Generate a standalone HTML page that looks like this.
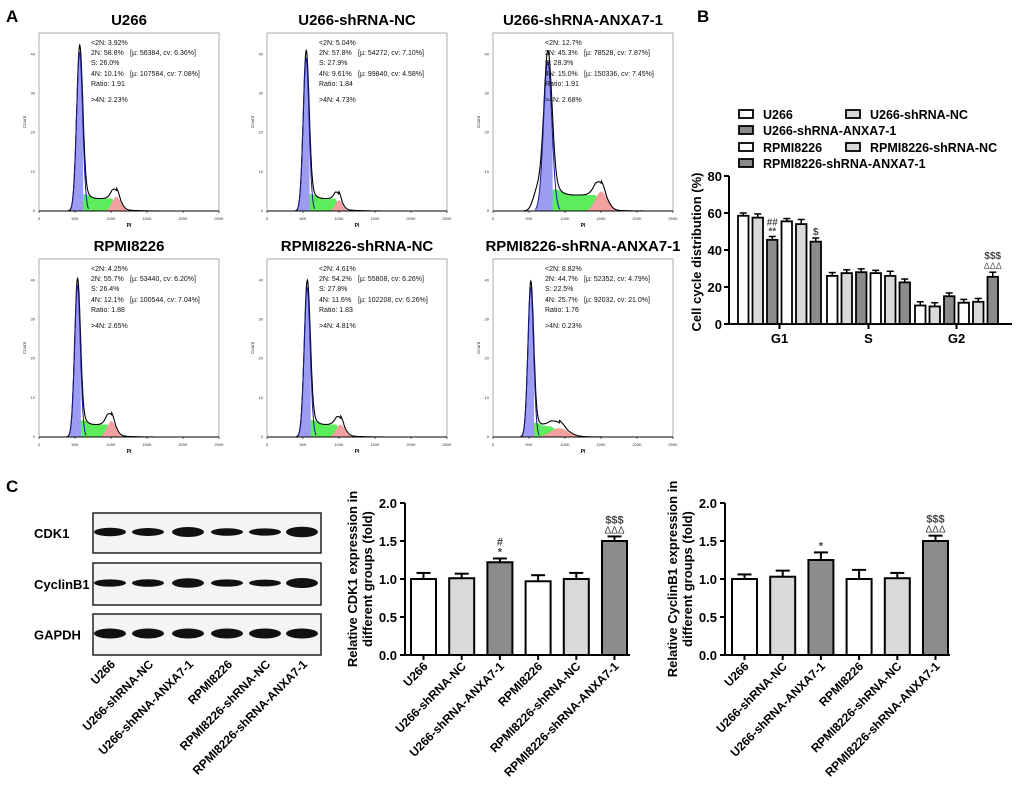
<!DOCTYPE html>
<html><head><meta charset="utf-8">
<style>
body{margin:0;background:#fff;}
svg{display:block;font-family:"Liberation Sans",Arial,sans-serif;}
</style></head>
<body>
<svg id="fig" width="1020" height="790" viewBox="0 0 1020 790" xmlns="http://www.w3.org/2000/svg">
<text x="6" y="22" font-size="17" font-weight="bold">A</text>
<text x="697" y="22" font-size="17" font-weight="bold">B</text>
<text x="6" y="492" font-size="17" font-weight="bold">C</text>
<g id="hist"></g>
<g id="cycle"></g>
<g id="blot"></g>
<g id="cdk1"></g>
<g id="ccnb1"></g>
</svg>
<script>
// ---------- Panel A data ----------
const histTitles = ["U266","U266-shRNA-NC","U266-shRNA-ANXA7-1","RPMI8226","RPMI8226-shRNA-NC","RPMI8226-shRNA-ANXA7-1"];
const histMu2N = [56.4,54.3,76,53.4,55.8,52.4];
const histMu4N = [107.6,99.8,150.3,100.5,102.2,92.0];
const histPeak = [0.89,0.86,0.84,0.85,0.84,0.84];
const histSLevel = [0.07,0.07,0.09,0.07,0.07,0.06];
const hist4NPeak = [0.08,0.06,0.11,0.09,0.07,0.05];
const histSd4N = [6,5,8,6,6,12];
const histText = [
 ["<2N: 3.92%","2N: 58.8%","S: 26.0%","4N: 10.1%","Ratio: 1.91",">4N: 2.23%","[µ: 56384, cv: 6.36%]","[µ: 107584, cv: 7.08%]"],
 ["<2N: 5.04%","2N: 57.8%","S: 27.9%","4N: 9.61%","Ratio: 1.84",">4N: 4.73%","[µ: 54272, cv: 7.10%]","[µ: 99840, cv: 4.58%]"],
 ["<2N: 12.7%","2N: 45.3%","S: 28.3%","4N: 15.0%","Ratio: 1.91",">4N: 2.68%","[µ: 78528, cv: 7.87%]","[µ: 150336, cv: 7.45%]"],
 ["<2N: 4.25%","2N: 55.7%","S: 26.4%","4N: 12.1%","Ratio: 1.88",">4N: 2.65%","[µ: 53440, cv: 6.20%]","[µ: 100544, cv: 7.04%]"],
 ["<2N: 4.61%","2N: 54.2%","S: 27.8%","4N: 11.6%","Ratio: 1.83",">4N: 4.81%","[µ: 55808, cv: 6.26%]","[µ: 102208, cv: 6.26%]"],
 ["<2N: 8.82%","2N: 44.7%","S: 22.5%","4N: 25.7%","Ratio: 1.76",">4N: 0.23%","[µ: 52352, cv: 4.79%]","[µ: 92032, cv: 21.0%]"]
];
// ---------- Panel B data ----------
const groups = ["G1","S","G2"];
const cycleSeries = ["U266","U266-shRNA-NC","U266-shRNA-ANXA7-1","RPMI8226","RPMI8226-shRNA-NC","RPMI8226-shRNA-ANXA7-1"];
const g1Values = [58.5,57.5,45.5,55.5,54,44.5];
const sValues = [26,27.5,28,27.5,26,22.5];
const g2Values = [10,9.5,15,11.5,12,25.5];
const g1Err = [1.5,2,1.8,1.5,2.5,2];
const sErr = [1.8,1.8,1.8,1.5,2.5,1.8];
const g2Err = [2,2,1.8,1.8,1.8,2.5];
const cycleTicks = [0,20,40,60,80];
// ---------- Panel C data ----------
const blotLanes = ["U266","U266-shRNA-NC","U266-shRNA-ANXA7-1","RPMI8226","RPMI8226-shRNA-NC","RPMI8226-shRNA-ANXA7-1"];
const cdk1Band = [0.75,0.65,1.0,0.6,0.55,1.1];
const ccnb1Band = [0.55,0.6,0.9,0.55,0.45,1.0];
const gapdhBand = [1,1,1,1,1,1];
const cdk1Values = [1.0,1.01,1.22,0.97,1.0,1.5];
const cdk1Err = [0.08,0.06,0.05,0.08,0.08,0.06];
const ccnb1Values = [1.0,1.03,1.25,1.0,1.01,1.5];
const ccnb1Err = [0.06,0.08,0.1,0.12,0.07,0.07];
const foldTicks = [0.0,0.5,1.0,1.5,2.0];

const NS="http://www.w3.org/2000/svg";
function mk(parent,tag,attrs,text){const e=document.createElementNS(NS,tag);for(const k in attrs)e.setAttribute(k,attrs[k]);if(text!==undefined)e.textContent=text;parent.appendChild(e);return e;}
const fills=["#ffffff","#d9d9d9","#8c8c8c","#ffffff","#d9d9d9","#8c8c8c"];

// ---------- Histograms ----------
(function(){
 const g=document.getElementById('hist');
 const frames=[[39,33],[267,33],[493,33],[39,259],[267,259],[493,259]];
 const W=180,H=178;
 for(let p=0;p<6;p++){
  const [L,T]=frames[p];const B=T+H;
  const px=v=>L+v/250*W, py=f=>B-f*H;
  const t=mk(g,'text',{x:L+W/2,y:T-8,'font-size':15,'font-weight':'bold','text-anchor':'middle'},histTitles[p]);
  
  
  const fr=mk(g,'rect',{x:L,y:T,width:W,height:H,fill:'none',stroke:'#999','stroke-width':0.8});
  
  
  const m2=histMu2N[p],m4=histMu4N[p],sd2=m2*0.075,sd4=histSd4N[p];
  const gauss=(x,m,s)=>Math.exp(-0.5*((x-m)/s)**2);
  const g1=x=>histPeak[p]*gauss(x,m2,sd2);
  const g2=x=>hist4NPeak[p]*gauss(x,m4,sd4);
  const sph=x=>{if(x<m2-sd2||x>m4+sd4)return 0;let f=histSLevel[p];let e=1;if(x<m2+sd2)e=(x-(m2-sd2))/(2*sd2);if(x>m4-sd4)e=((m4+sd4)-x)/(2*sd4);return f*Math.max(0,Math.min(1,e))*(1+0.35*gauss(x,m2+1.8*sd2,sd2*1.5));};
  const tail=x=>x>m4?0.015*Math.exp(-(x-m4)/15):0;
  const shoulder=x=>p===2?0.12*gauss(x,62,6):0;
  const tot=x=>g1(x)+g2(x)+sph(x)+tail(x)+shoulder(x);
  function area(fn,a,b,col,name){let d=`M${px(a)},${B}`;for(let x=a;x<=b;x+=0.5)d+=` L${px(x).toFixed(1)},${py(fn(x)).toFixed(1)}`;d+=` L${px(b)},${B}Z`;const e=mk(g,'path',{d:d,fill:col,stroke:'none'});}
  area(sph,m2-sd2,m4+sd4,'#5cec5c','s-phase-area');
  area(g1,m2-4*sd2,m2+1.2*sd2,'#9c9cf2','g1-peak-area');
  area(g2,m4-3*sd4,m4+3*sd4,'#f3a0a0','g2-peak-area');
  let d='';for(let x=0;x<=250;x+=0.5)d+=(x?' L':'M')+px(x).toFixed(1)+','+py(tot(x)).toFixed(1);
  const ln=mk(g,'path',{d:d,fill:'none',stroke:'#000','stroke-width':1.1});
  
  
  let d2='';for(let x=m2-3*sd2;x<=m2+3*sd2;x+=0.5)d2+=(d2?' L':'M')+px(x).toFixed(1)+','+py(g1(x)).toFixed(1);
  mk(g,'path',{d:d2,fill:'none',stroke:'#1a1a90','stroke-width':1});
  mk(g,'line',{x1:L,y1:B,x2:L+W,y2:B,stroke:'#000','stroke-width':1});
  for(let k=0;k<=5;k++){mk(g,'line',{x1:px(k*50),y1:B,x2:px(k*50),y2:B+2,stroke:'#000','stroke-width':0.6});
   const tl=mk(g,'text',{x:px(k*50),y:B+9,'font-size':4,'text-anchor':'middle',fill:'#333'},k?k*50+'K':'0');
   
   }
  for(let k=0;k<5;k++){mk(g,'text',{x:L-4,y:B-k*H*0.22+1,'font-size':4,'text-anchor':'end',fill:'#333'},k*10);}
  const xl=mk(g,'text',{x:L+W/2,y:B+16,'font-size':5,'font-weight':'bold','text-anchor':'middle'},'PI');
  
  
  const yl=mk(g,'text',{x:0,y:0,'font-size':4.5,'text-anchor':'middle',fill:'#333',transform:`translate(${L-13},${T+H/2}) rotate(-90)`},'Count');
  
  
  const tx=histText[p];const ys=[12,22,32,43,53,69];
  for(let i=0;i<6;i++){const e=mk(g,'text',{x:L+52,y:T+ys[i],'font-size':7,fill:'#111'},tx[i]);}
  mk(g,'text',{x:L+91,y:T+ys[1],'font-size':7,fill:'#111'},tx[6]);
  mk(g,'text',{x:L+91,y:T+ys[3],'font-size':7,fill:'#111'},tx[7]);
 }
})();

// ---------- Panel B ----------
(function(){
 const g=document.getElementById('cycle');
 const X0=729,Y0=324,Y1=176,XE=1012;
 const y=v=>Y0-(v/80)*(Y0-Y1);
 const groupStart=[738,827,915],pitch=14.5,bw=10.5;
 const vals=[g1Values,sValues,g2Values],errs=[g1Err,sErr,g2Err];
 mk(g,'line',{x1:X0,y1:Y1,x2:X0,y2:Y0,stroke:'#000','stroke-width':2});
 mk(g,'line',{x1:X0,y1:Y0,x2:XE,y2:Y0,stroke:'#000','stroke-width':2});
 cycleTicks.forEach(t=>{mk(g,'line',{x1:X0-5,y1:y(t),x2:X0,y2:y(t),stroke:'#000','stroke-width':2});
  const e=mk(g,'text',{x:X0-7,y:y(t)+5,'font-size':13,'font-weight':'bold','text-anchor':'end'},t);
  
  });
 const yt=mk(g,'text',{x:0,y:0,'font-size':13,'font-weight':'bold','text-anchor':'middle',transform:`translate(701,${(Y0+Y1)/2+2}) rotate(-90)`},'Cell cycle distribution (%)');
 
 
 groups.forEach((gn,gi)=>{
  for(let s=0;s<6;s++){const bx=groupStart[gi]+s*pitch,v=vals[gi][s],e=errs[gi][s];const cx=bx+bw/2;
   mk(g,'line',{x1:cx,y1:y(v),x2:cx,y2:y(v+e),stroke:'#000','stroke-width':1.5});
   mk(g,'line',{x1:cx-3.5,y1:y(v+e),x2:cx+3.5,y2:y(v+e),stroke:'#000','stroke-width':1.5});
   const r=mk(g,'rect',{x:bx,y:y(v),width:bw,height:Y0-y(v),fill:fills[s],stroke:'#000','stroke-width':1.8});
   
   }
  const cx=groupStart[gi]+2.5*pitch+bw/2;
  mk(g,'line',{x1:cx,y1:Y0,x2:cx,y2:Y0+5,stroke:'#000','stroke-width':2});
  const e=mk(g,'text',{x:cx,y:Y0+19,'font-size':13,'font-weight':'bold','text-anchor':'middle'},gn);
  
  
 });
 const bx3=groupStart[0]+2*pitch+bw/2, bx6=groupStart[0]+5*pitch+bw/2, cx6=groupStart[2]+5*pitch+bw/2;
 mk(g,'text',{x:bx3,y:y(g1Values[2]+g1Err[2])-11,'font-size':10,'font-weight':'bold','text-anchor':'middle',fill:'#444'},'##');
 mk(g,'text',{x:bx3,y:y(g1Values[2]+g1Err[2])-2,'font-size':10,'font-weight':'bold','text-anchor':'middle',fill:'#444'},'**');
 mk(g,'text',{x:bx6,y:y(g1Values[5]+g1Err[5])-3,'font-size':10,'font-weight':'bold','text-anchor':'middle',fill:'#444'},'$');
 mk(g,'text',{x:cx6,y:y(g2Values[5]+g2Err[5])-13,'font-size':10,'font-weight':'bold','text-anchor':'middle',fill:'#444'},'$$$');
 mk(g,'text',{x:cx6,y:y(g2Values[5]+g2Err[5])-3,'font-size':9,'text-anchor':'middle',fill:'#666'},'ΔΔΔ');
 const leg=[[739,119,0],[846,119,1],[739,135,2],[739,152,3],[846,152,4],[739,168,5]];
 leg.forEach(([lx,ly,i])=>{
  const r=mk(g,'rect',{x:lx,y:ly-9,width:14,height:8,fill:fills[i],stroke:'#000','stroke-width':1.8});
  
  
  const t=mk(g,'text',{x:lx+24,y:ly,'font-size':12.5,'font-weight':'bold'},cycleSeries[i]);
  
  
 });
})();

// ---------- Western blot ----------
(function(){
 const g=document.getElementById('blot');
 const boxes=[[513,553,'CDK1',cdk1Band],[563,605,'CyclinB1',ccnb1Band],[614,655,'GAPDH',gapdhBand]];
 const lanes=[110,148,188,227,265,302];
 boxes.forEach(([t,b,name,band])=>{
  const r=mk(g,'rect',{x:93,y:t,width:228,height:b-t,fill:'#f4f4f4',stroke:'#222','stroke-width':1.5});
  
  
  const lb=mk(g,'text',{x:34,y:(t+b)/2+5,'font-size':13,'font-weight':'bold'},name);
  
  
  band.forEach((s,i)=>{const e=mk(g,'ellipse',{cx:lanes[i],cy:(t+b)/2-1,rx:16,ry:2+s*3,fill:'#111'});
   
   });
 });
 blotLanes.forEach((l,i)=>{const e=mk(g,'text',{x:0,y:0,'font-size':12,'font-weight':'bold','text-anchor':'end',transform:`translate(${lanes[i]+6},${665}) rotate(-45)`},l);
  
  });
})();

// ---------- Fold bar charts ----------
function foldChart(id,X0,firstBar,vals,errs,title,marks){
 const g=document.getElementById(id);
 const Y0=655,Y1=503,XE=X0+225;
 const y=v=>Y0-(v/2)*(Y0-Y1);
 const pitch=38.2,bw=25;
 mk(g,'line',{x1:X0,y1:Y1,x2:X0,y2:Y0,stroke:'#000','stroke-width':2});
 mk(g,'line',{x1:X0,y1:Y0,x2:XE,y2:Y0,stroke:'#000','stroke-width':2});
 foldTicks.forEach(t=>{mk(g,'line',{x1:X0-5,y1:y(t),x2:X0,y2:y(t),stroke:'#000','stroke-width':2});
  const e=mk(g,'text',{x:X0-8,y:y(t)+5,'font-size':13,'font-weight':'bold','text-anchor':'end'},t.toFixed(1));
  
  });
 const t1=mk(g,'text',{x:0,y:0,'font-size':13,'font-weight':'bold','text-anchor':'middle',transform:`translate(${X0-48},${(Y0+Y1)/2}) rotate(-90)`},title[0]);
 
 
 mk(g,'text',{x:0,y:0,'font-size':13,'font-weight':'bold','text-anchor':'middle',transform:`translate(${X0-33},${(Y0+Y1)/2}) rotate(-90)`},title[1]);
 vals.forEach((v,i)=>{const bx=firstBar+i*pitch,cx=bx+bw/2,e=errs[i];
  mk(g,'line',{x1:cx,y1:y(v),x2:cx,y2:y(v+e),stroke:'#000','stroke-width':2});
  mk(g,'line',{x1:cx-7,y1:y(v+e),x2:cx+7,y2:y(v+e),stroke:'#000','stroke-width':2});
  const r=mk(g,'rect',{x:bx,y:y(v),width:bw,height:Y0-y(v),fill:fills[i],stroke:'#000','stroke-width':2});
  
  
  mk(g,'line',{x1:cx,y1:Y0,x2:cx,y2:Y0+5,stroke:'#000','stroke-width':2});
  const l=mk(g,'text',{x:0,y:0,'font-size':12,'font-weight':'bold','text-anchor':'end',transform:`translate(${cx+5},${Y0+12}) rotate(-45)`},blotLanes[i]);
  
  
 });
 marks.forEach(([i,lines])=>{const cx=firstBar+i*pitch+bw/2,top=y(vals[i]+errs[i]);
  lines.forEach((s,k)=>{mk(g,'text',{x:cx,y:top-3-(lines.length-1-k)*10,'font-size':s==='ΔΔΔ'?10:11,'font-weight':s==='ΔΔΔ'?'normal':'bold','text-anchor':'middle',fill:'#444'},s);});
 });
}
foldChart('cdk1',405,411,cdk1Values,cdk1Err,['Relative CDK1 expression in','different groups (fold)'],[[2,['#','*']],[5,['$$$','ΔΔΔ']]]);
foldChart('ccnb1',725,732,ccnb1Values,ccnb1Err,['Relative CyclinB1 expression in','different groups (fold)'],[[2,['*']],[5,['$$$','ΔΔΔ']]]);
</script>
</body></html>
